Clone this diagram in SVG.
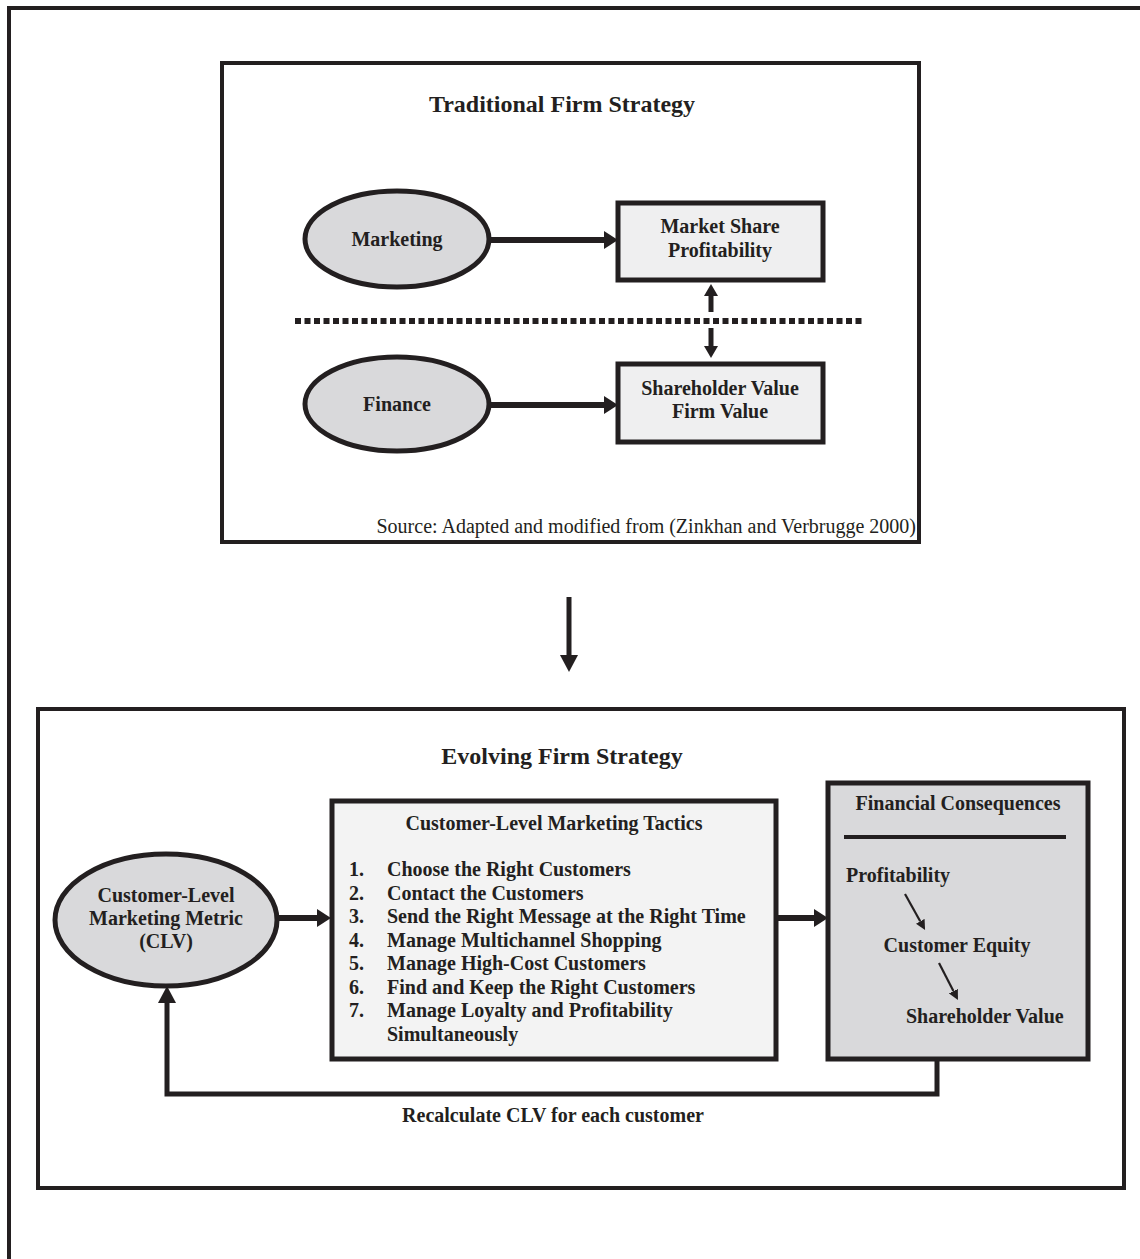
<svg xmlns="http://www.w3.org/2000/svg" width="1140" height="1259" viewBox="0 0 1140 1259">
<style>
  text { font-family: "Liberation Serif", "Times New Roman", serif; fill: #231f20; }
  .b { font-weight: bold; font-size: 20px; }
  .t { font-weight: bold; font-size: 24px; }
  .r { font-size: 20px; }
  .c { text-anchor: middle; }
  .frame { fill: none; stroke: #231f20; stroke-width: 4; }
  .ell { fill: #d9d9db; stroke: #231f20; stroke-width: 5; }
  .box { fill: #efeff0; stroke: #231f20; stroke-width: 5; }
  .dbox { fill: #d9d9db; stroke: #231f20; stroke-width: 5; }
  .con { fill: none; stroke: #231f20; }
</style>
<defs>
  <marker id="hb" markerUnits="userSpaceOnUse" markerWidth="14" markerHeight="18" refX="0" refY="9" orient="auto">
    <path d="M0,0 L14,9 L0,18 z" fill="#231f20"/>
  </marker>
  <marker id="hm" markerUnits="userSpaceOnUse" markerWidth="12" markerHeight="14" refX="0" refY="7" orient="auto">
    <path d="M0,0 L12,7 L0,14 z" fill="#231f20"/>
  </marker>
  <marker id="hd" markerUnits="userSpaceOnUse" markerWidth="17" markerHeight="18" refX="0" refY="9" orient="auto">
    <path d="M0,0 L17,9 L0,18 z" fill="#231f20"/>
  </marker>
  <marker id="hs" markerUnits="userSpaceOnUse" markerWidth="10" markerHeight="10" refX="0" refY="5" orient="auto">
    <path d="M0,0 L10,5 L0,10 z" fill="#231f20"/>
  </marker>
</defs>
<rect width="1140" height="1259" fill="#ffffff"/>

<g id="outer-frame">
  <path class="frame" d="M9,1259 V8 H1140"/>
</g>

<g id="traditional-box">
  <rect class="frame" x="222" y="63" width="697" height="479"/>
  <text class="t c" x="562" y="112">Traditional Firm Strategy</text>
  <text class="r" x="916" y="533" text-anchor="end">Source: Adapted and modified from (Zinkhan and Verbrugge 2000)</text>
</g>

<g id="marketing">
  <ellipse class="ell" cx="397" cy="239" rx="92" ry="48"/>
  <text class="b c" x="397" y="246">Marketing</text>
</g>

<g id="market-share">
  <rect class="box" x="618" y="203" width="205" height="77"/>
  <text class="b c" x="720" y="233">Market Share</text>
  <text class="b c" x="720" y="257">Profitability</text>
</g>

<g id="finance">
  <ellipse class="ell" cx="397" cy="404" rx="92" ry="47"/>
  <text class="b c" x="397" y="411">Finance</text>
</g>

<g id="shareholder-value">
  <rect class="box" x="618" y="364" width="205" height="78"/>
  <text class="b c" x="720" y="395">Shareholder Value</text>
  <text class="b c" x="720" y="418">Firm Value</text>
</g>

<g id="evolving-box">
  <rect class="frame" x="38" y="709" width="1086" height="479"/>
  <text class="t c" x="562" y="764">Evolving Firm Strategy</text>
</g>

<g id="clv">
  <ellipse class="ell" cx="166" cy="920" rx="111" ry="66"/>
  <text class="b c" x="166" y="902">Customer-Level</text>
  <text class="b c" x="166" y="925">Marketing Metric</text>
  <text class="b c" x="166" y="948">(CLV)</text>
</g>

<g id="tactics">
  <rect class="box" x="332" y="801" width="444" height="258" style="fill:#f3f3f3"/>
  <text class="b c" x="554" y="830">Customer-Level Marketing Tactics</text>
  <g class="b">
    <text class="b" x="349" y="876">1.</text><text class="b" x="387" y="876">Choose the Right Customers</text>
    <text class="b" x="349" y="899.5">2.</text><text class="b" x="387" y="899.5">Contact the Customers</text>
    <text class="b" x="349" y="923">3.</text><text class="b" x="387" y="923">Send the Right Message at the Right Time</text>
    <text class="b" x="349" y="946.5">4.</text><text class="b" x="387" y="946.5">Manage Multichannel Shopping</text>
    <text class="b" x="349" y="970">5.</text><text class="b" x="387" y="970">Manage High-Cost Customers</text>
    <text class="b" x="349" y="993.5">6.</text><text class="b" x="387" y="993.5">Find and Keep the Right Customers</text>
    <text class="b" x="349" y="1017">7.</text><text class="b" x="387" y="1017">Manage Loyalty and Profitability</text>
    <text class="b" x="387" y="1040.5">Simultaneously</text>
  </g>
</g>

<g id="financial-consequences">
  <rect class="dbox" x="828" y="783" width="260" height="276"/>
  <text class="b c" x="958" y="810">Financial Consequences</text>
  <line x1="844" y1="837" x2="1066" y2="837" stroke="#231f20" stroke-width="4"/>
  <text class="b" x="846" y="882">Profitability</text>
  <text class="b c" x="957" y="952">Customer Equity</text>
  <text class="b" x="906" y="1023">Shareholder Value</text>
</g>

<g id="connectors">
  <line class="con" x1="490" y1="240" x2="604" y2="240" stroke-width="6" marker-end="url(#hb)"/>
  <line class="con" x1="490" y1="405" x2="604" y2="405" stroke-width="6" marker-end="url(#hb)"/>
  <line class="con" x1="711" y1="312" x2="711" y2="296" stroke-width="5" marker-end="url(#hm)"/>
  <line class="con" x1="711" y1="328" x2="711" y2="346" stroke-width="5" marker-end="url(#hm)"/>
  <line class="con" x1="295" y1="321" x2="864" y2="321" stroke-width="6" stroke-dasharray="6 3.5"/>
  <line class="con" x1="569" y1="597" x2="569" y2="655" stroke-width="5" marker-end="url(#hd)"/>
  <line class="con" x1="277" y1="918" x2="317" y2="918" stroke-width="6" marker-end="url(#hb)"/>
  <line class="con" x1="776" y1="918" x2="814" y2="918" stroke-width="6" marker-end="url(#hb)"/>
  <path class="con" d="M937,1059 V1094 H167 V1003" stroke-width="5" marker-end="url(#hd)"/>
  <line class="con" x1="905" y1="894" x2="920.2" y2="921.3" stroke-width="2.2" marker-end="url(#hs)"/>
  <line class="con" x1="939" y1="963" x2="953.4" y2="991.1" stroke-width="2.2" marker-end="url(#hs)"/>
</g>

<g id="feedback-label">
  <text class="b c" x="553" y="1122">Recalculate CLV for each customer</text>
</g>
</svg>
